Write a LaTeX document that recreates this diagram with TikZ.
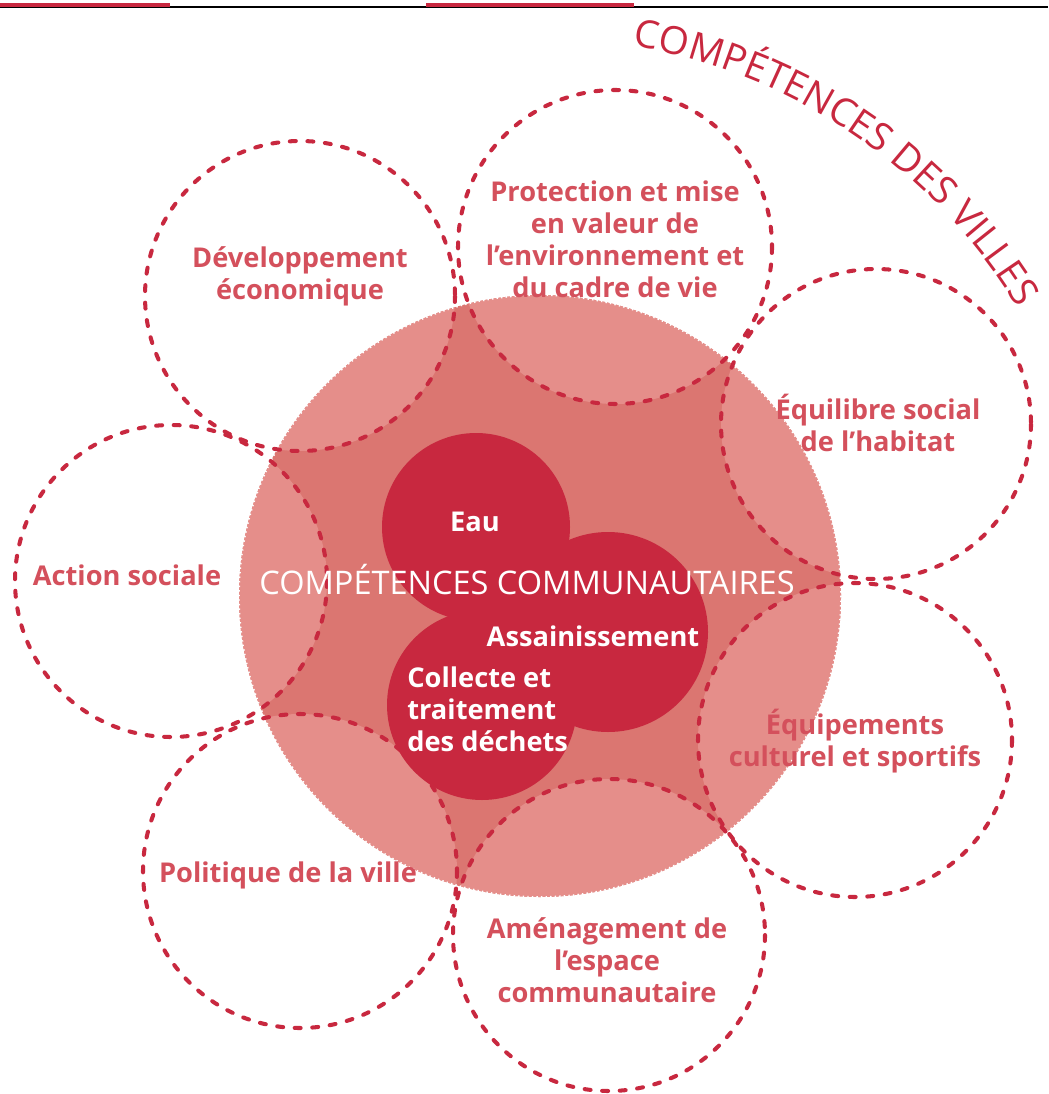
\documentclass[tikz,border=0pt]{standalone}
\usepackage{fontspec}
\setmainfont{Open Sans}
\usetikzlibrary{decorations.text}
\definecolor{rouge}{HTML}{C8283F}
\definecolor{rose}{HTML}{DB7671}
\definecolor{roseclair}{HTML}{E58E8A}
\definecolor{texte}{HTML}{D4505C}

\tikzset{
  ville/.style={draw=rouge, line width=2.3pt, dash pattern=on 3.4pt off 6.6pt, line cap=round},
  nom/.style={text=texte, inner sep=0pt, align=center, font=\fontsize{15.5}{18.2}\selectfont\bfseries},
  comm/.style={text=white, inner sep=0pt, font=\fontsize{15.5}{18.2}\selectfont\bfseries},
}

\begin{document}
\begin{tikzpicture}[x=0.02cm, y=-0.02cm]
\useasboundingbox (0,0) rectangle (1048,1094);
\fill[white] (0,0) rectangle (1048,1094);

% filet du haut
\draw[black, line width=0.6pt] (0,7) -- (1048,7);
\fill[rouge] (0,3) rectangle (170,7);
\fill[rouge] (426,3) rectangle (634,7);

% centres des cercles
\coordinate (centre) at (540,596);
\coordinate (dev) at (300,296);
\coordinate (prot) at (615,247);
\coordinate (equi) at (876,424);
\coordinate (action) at (171,581);
\coordinate (equip) at (855,740);
\coordinate (pol) at (300,871);
\coordinate (amen) at (609,935);

% grand disque
\fill[rose] (centre) circle[radius=301];
\begin{scope}
  \clip (centre) circle[radius=301];
  \foreach \c/\r in {dev/155,prot/157,equi/155,action/156,equip/157,pol/157,amen/156}
    \fill[roseclair] (\c) circle[radius=\r];
\end{scope}
\draw[white, line width=1pt, dash pattern=on 0.8pt off 1.8pt] (centre) circle[radius=301];

% competences communautaires
\fill[rouge] (476,527) circle[radius=94];
\fill[rouge] (608,632) circle[radius=100];
\fill[rouge] (482,705) circle[radius=95];

% cercles des villes
\foreach \c/\r in {dev/155,prot/157,equi/155,action/156,equip/157,pol/157,amen/156}
  \draw[ville] (\c) circle[radius=\r];

\node[nom] (tdev) at (300,276) {Développement\\économique};
\node[nom] (tprot) at (615,239) {Protection et mise\\en valeur de\\l’environnement et\\du cadre de vie};
\node[nom] (tequi) at (878,423) {Équilibre social\\de l’habitat};
\node[nom] (taction) at (127,575) {Action sociale};
\node[nom] (tequip) at (855,741) {Équipements\\culturel et sportifs};
\node[nom] (tpol) at (288,875) {Politique de la ville};
\node[nom] (tamen) at (607,960) {Aménagement de\\l’espace\\communautaire};

\node[comm] (teau) at (475,522) {Eau};
\node[text=white, inner sep=0pt, font=\fontsize{18.5}{22}\selectfont] (tcomm) at (527,580) {COMPÉTENCES COMMUNAUTAIRES};
\node[comm] (tass) at (593,636) {Assainissement};
\node[comm, align=left, anchor=west] (tcoll) at (407,709) {Collecte et\\traitement\\des déchets};

% titre courbe
\path[decorate, decoration={text along path, text align=center, text color=rouge,
  text={|\fontsize{22}{25}\selectfont|COMPÉTENCES DES VILLES}}]
  (centre) ++(-101.5:558) arc[start angle=-101.5, end angle=-10, radius=558];
\end{tikzpicture}
\end{document}
